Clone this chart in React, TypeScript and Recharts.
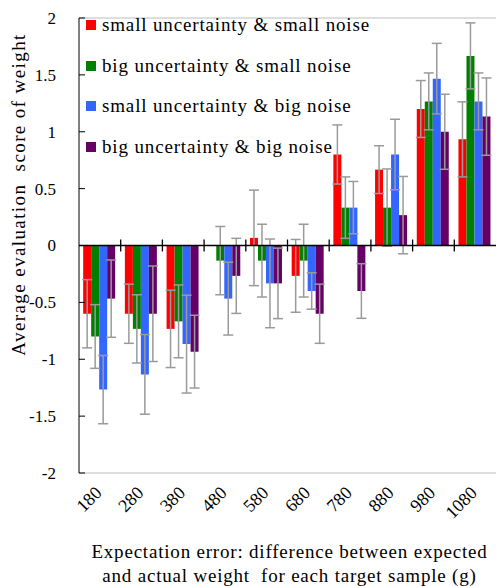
import { BarChart, Bar, XAxis, YAxis, ErrorBar, ReferenceLine, Legend } from "recharts";

const CATEGORIES = ["180", "280", "380", "480", "580", "680", "780", "880", "980", "1080"];

// mean scores per condition
const SMALL_UNC_SMALL_NOISE = [-0.6, -0.6, -0.733, 0, 0.067, -0.267, 0.8, 0.667, 1.2, 0.933];
const BIG_UNC_SMALL_NOISE = [-0.8, -0.733, -0.667, -0.133, -0.133, -0.133, 0.333, 0.333, 1.267, 1.667];
const SMALL_UNC_BIG_NOISE = [-1.267, -1.133, -0.867, -0.467, -0.333, -0.4, 0.333, 0.8, 1.467, 1.267];
const BIG_UNC_BIG_NOISE = [-0.467, -0.6, -0.933, -0.267, -0.333, -0.6, -0.4, 0.267, 1.0, 1.133];

// error bar half-lengths
const SMALL_UNC_SMALL_NOISE_ERR = [0.3, 0.26, 0.34, 0.41, 0.42, 0.32, 0.26, 0.21, 0.25, 0.33];
const BIG_UNC_SMALL_NOISE_ERR = [0.28, 0.3, 0.32, 0.3, 0.32, 0.32, 0.27, 0.34, 0.25, 0.29];
const SMALL_UNC_BIG_NOISE_ERR = [0.3, 0.35, 0.43, 0.32, 0.39, 0.16, 0.23, 0.31, 0.31, 0.25];
const BIG_UNC_BIG_NOISE_ERR = [0.34, 0.42, 0.32, 0.33, 0.31, 0.26, 0.24, 0.34, 0.33, 0.34];

const Y_TICKS = [-2, -1.5, -1, -0.5, 0, 0.5, 1, 1.5, 2];

const SERIES = [
  { key: "ssn", name: "small uncertainty & small noise", color: "#ff0000", values: SMALL_UNC_SMALL_NOISE, errors: SMALL_UNC_SMALL_NOISE_ERR },
  { key: "bsn", name: "big uncertainty & small noise", color: "#008000", values: BIG_UNC_SMALL_NOISE, errors: BIG_UNC_SMALL_NOISE_ERR },
  { key: "sbn", name: "small uncertainty & big noise", color: "#3366ff", values: SMALL_UNC_BIG_NOISE, errors: SMALL_UNC_BIG_NOISE_ERR },
  { key: "bbn", name: "big uncertainty & big noise", color: "#660066", values: BIG_UNC_BIG_NOISE, errors: BIG_UNC_BIG_NOISE_ERR },
];

const FONT = "'Liberation Serif', 'DejaVu Serif', serif";

const data = CATEGORIES.map((cat, i) => {
  const row: Record<string, string | number> = { cat };
  SERIES.forEach((s) => {
    row[s.key] = s.values[i];
    row[s.key + "Err"] = s.errors[i];
  });
  return row;
});

const XTick = ({ x, y, payload }: any) => {
  const tx = x + 3;
  const ty = y + 21;
  return (
    <text x={tx} y={ty} transform={`rotate(-45, ${tx}, ${ty})`} textAnchor="end" fontSize={18} fontFamily={FONT} fill="#000">
      {payload.value}
    </text>
  );
};

const YTick = ({ x, y, payload }: any) => (
  <g>
    <line x1={x} x2={x + 6} y1={y} y2={y} stroke="#000" />
    <text x={x - 23} y={y} dy="0.35em" textAnchor="end" fontSize={17} fontFamily={FONT} fill="#000">
      {payload.value}
    </text>
  </g>
);

const XLabel = ({ viewBox }: any) => {
  const cx = viewBox.x + viewBox.width / 2 + 2;
  return (
    <g fontSize={19} fill="#000" fontFamily={FONT} style={{ letterSpacing: 0.8 }}>
      <text x={cx} y={viewBox.y + 85} textAnchor="middle">
        Expectation error: difference between expected
      </text>
      <text x={cx} y={viewBox.y + 109} textAnchor="middle" xmlSpace="preserve">
        {"and actual weight\u00a0 for each target sample (g)"}
      </text>
    </g>
  );
};

const YLabel = ({ viewBox }: any) => {
  const x = viewBox.x + 18;
  const y = viewBox.y + viewBox.height / 2 - 51;
  return (
    <text
      x={x}
      y={y}
      transform={`rotate(-90, ${x}, ${y})`}
      textAnchor="middle"
      dominantBaseline="central"
      fontSize={19}
      fill="#000"
      fontFamily={FONT}
      style={{ letterSpacing: 1.4 }}
    >
      {"Average evaluation\u00a0 score of weight"}
    </text>
  );
};

// zero line with ticks at the category boundaries
const ZeroLine = (p: any) => {
  const { x1, x2, y1 } = p;
  const step = (x2 - x1) / CATEGORIES.length;
  return (
    <g>
      <line x1={x1} x2={x2} y1={y1} y2={y1} stroke="#000" strokeWidth={1.5} />
      {CATEGORIES.slice(1).map((_, i) => (
        <line key={i} x1={x1 + (i + 1) * step} x2={x1 + (i + 1) * step} y1={y1 - 6} y2={y1 + 6} stroke="#000" strokeWidth={1.3} />
      ))}
    </g>
  );
};

const LegendBox = () => (
  <div style={{ fontFamily: FONT, fontSize: 19, letterSpacing: 0.85, color: "#000", whiteSpace: "nowrap" }}>
    {SERIES.map((s) => (
      <div key={s.key} style={{ display: "flex", alignItems: "center", height: 40.5 }}>
        <div style={{ width: 10, height: 10, backgroundColor: s.color, marginRight: 6 }} />
        <span>{s.name}</span>
      </div>
    ))}
  </div>
);

export default function App() {
  return (
    <div style={{ position: "absolute", left: 0, top: 0 }}>
      <BarChart
        width={496}
        height={586}
        data={data}
        margin={{ top: 18, right: 0, left: 0, bottom: 0 }}
        barCategoryGap="10%"
        barGap={0}
      >
        <XAxis
          dataKey="cat"
          height={113}
          axisLine={false}
          tickLine={false}
          tickSize={0}
          tickMargin={0}
          interval={0}
          tick={<XTick />}
          label={{ content: XLabel }}
        />
        <YAxis
          width={79}
          domain={[-2, 2]}
          ticks={Y_TICKS}
          axisLine={{ stroke: "#000" }}
          tickLine={false}
          tickSize={0}
          tickMargin={0}
          tick={<YTick />}
          label={{ content: YLabel }}
        />
        <ReferenceLine y={2} stroke="#bdbdbd" />
        <ReferenceLine y={-2} stroke="#bdbdbd" />
        {SERIES.map((s) => (
          <Bar key={s.key} dataKey={s.key} name={s.name} fill={s.color} isAnimationActive={false}>
            <ErrorBar dataKey={s.key + "Err"} width={5} stroke="#9a9a9a" strokeWidth={1.5} isAnimationActive={false} />
          </Bar>
        ))}
        <ReferenceLine y={0} stroke="#000" shape={ZeroLine} />
        <Legend
          layout="vertical"
          align="center"
          verticalAlign="middle"
          content={LegendBox}
          wrapperStyle={{ left: 86, top: 5, width: "auto" }}
        />
      </BarChart>
    </div>
  );
}
